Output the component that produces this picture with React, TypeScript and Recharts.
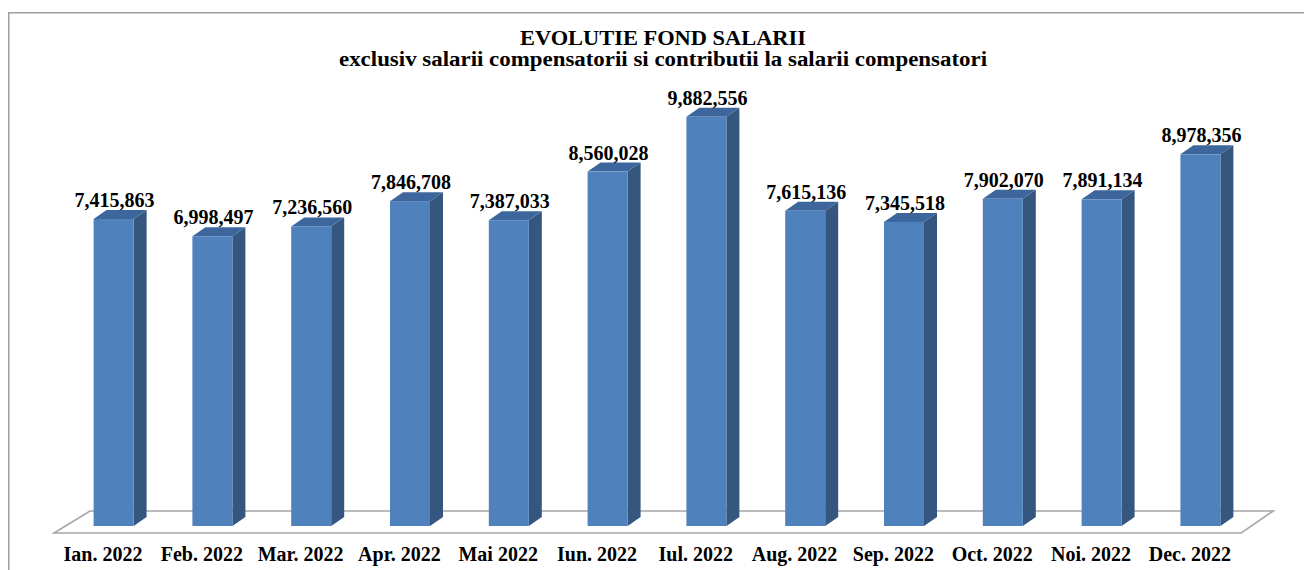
import React from "react";
import { BarChart, Bar, XAxis, YAxis, CartesianGrid, LabelList } from "recharts";

const months = ["Ian. 2022", "Feb. 2022", "Mar. 2022", "Apr. 2022", "Mai 2022", "Iun. 2022", "Iul. 2022", "Aug. 2022", "Sep. 2022", "Oct. 2022", "Noi. 2022", "Dec. 2022"];
const fondSalarii = [7415863, 6998497, 7236560, 7846708, 7387033, 8560028, 9882556, 7615136, 7345518, 7902070, 7891134, 8978356];
const titleText = "EVOLUTIE FOND SALARII";
const subtitleText = "exclusiv salarii  compensatorii si contributii  la salarii compensatori";

const data = months.map((m, i) => ({ month: m, value: fondSalarii[i] }));

const FONT = "'Times New Roman', 'Liberation Serif', serif";
const DX = 13;
const DY = 9;

const Bar3D = (props: any) => {
  const { x, y, width, height } = props;
  if (height == null || width == null) return null;
  const front = "#4F81BD";
  const side = "#34567F";
  const top = "#3D679C";
  return (
    <g>
      <polygon
        points={`${x + width},${y} ${x + width + DX},${y - DY} ${x + width + DX},${y + height - DY} ${x + width},${y + height}`}
        fill={side}
      />
      <polygon
        points={`${x},${y} ${x + DX},${y - DY} ${x + width + DX},${y - DY} ${x + width},${y}`}
        fill={top}
      />
      <rect x={x} y={y} width={width} height={height} fill={front} />
    </g>
  );
};

const Floor = (props: any) => {
  const { x1, x2, y1 } = props;
  const pts = `${x1 - 10.6},${y1 + 7} ${x2 - 9},${y1 + 7} ${x2 + 23},${y1 - 15} ${x1 + 25.4},${y1 - 15}`;
  return <polygon key={props.key} points={pts} fill="#FFFFFF" stroke="#A6A6A6" strokeWidth={1.6} />;
};

const ValueLabel = (props: any) => {
  const { x, y, width, value } = props;
  return (
    <text x={x + width / 2 + 1} y={y - 12} textAnchor="middle" fontFamily={FONT} fontWeight="bold" fontSize={20} fill="#000">
      {Number(value).toLocaleString("en-US")}
    </text>
  );
};

const MonthTick = (props: any) => {
  const { x, y, payload } = props;
  return (
    <text x={x - 11} y={y + 35} textAnchor="middle" fontFamily={FONT} fontWeight="bold" fontSize={20} fill="#000">
      {payload.value}
    </text>
  );
};

export default function App() {
  return (
    <div style={{ width: 1304, height: 562, position: "relative" }}>
      <BarChart
        width={1304}
        height={562}
        data={data}
        margin={{ top: 104, right: 61.8, left: 56.6, bottom: 0 }}
        barSize={40}
      >
        <rect x={0.75} y={4.75} width={1320} height={700} fill="none" stroke="#A0A0A0" strokeWidth={1.5} />
        <text x={655} y={36.5} textAnchor="middle" fontFamily={FONT} fontWeight="bold" fontSize={20} fill="#000" textLength={286} lengthAdjust="spacingAndGlyphs">
          {titleText}
        </text>
        <text x={655} y={57.5} textAnchor="middle" fontFamily={FONT} fontWeight="bold" fontSize={20} fill="#000" textLength={648} lengthAdjust="spacingAndGlyphs">
          {subtitleText}
        </text>
        <CartesianGrid vertical={false} horizontalValues={[0]} horizontal={Floor as any} />
        <XAxis dataKey="month" axisLine={false} tickLine={false} tickSize={0} tickMargin={0} height={44} interval={0} tick={MonthTick} />
        <YAxis hide domain={[0, 10000000]} />
        <Bar dataKey="value" shape={Bar3D} isAnimationActive={false}>
          <LabelList dataKey="value" content={ValueLabel} />
        </Bar>
      </BarChart>
    </div>
  );
}
